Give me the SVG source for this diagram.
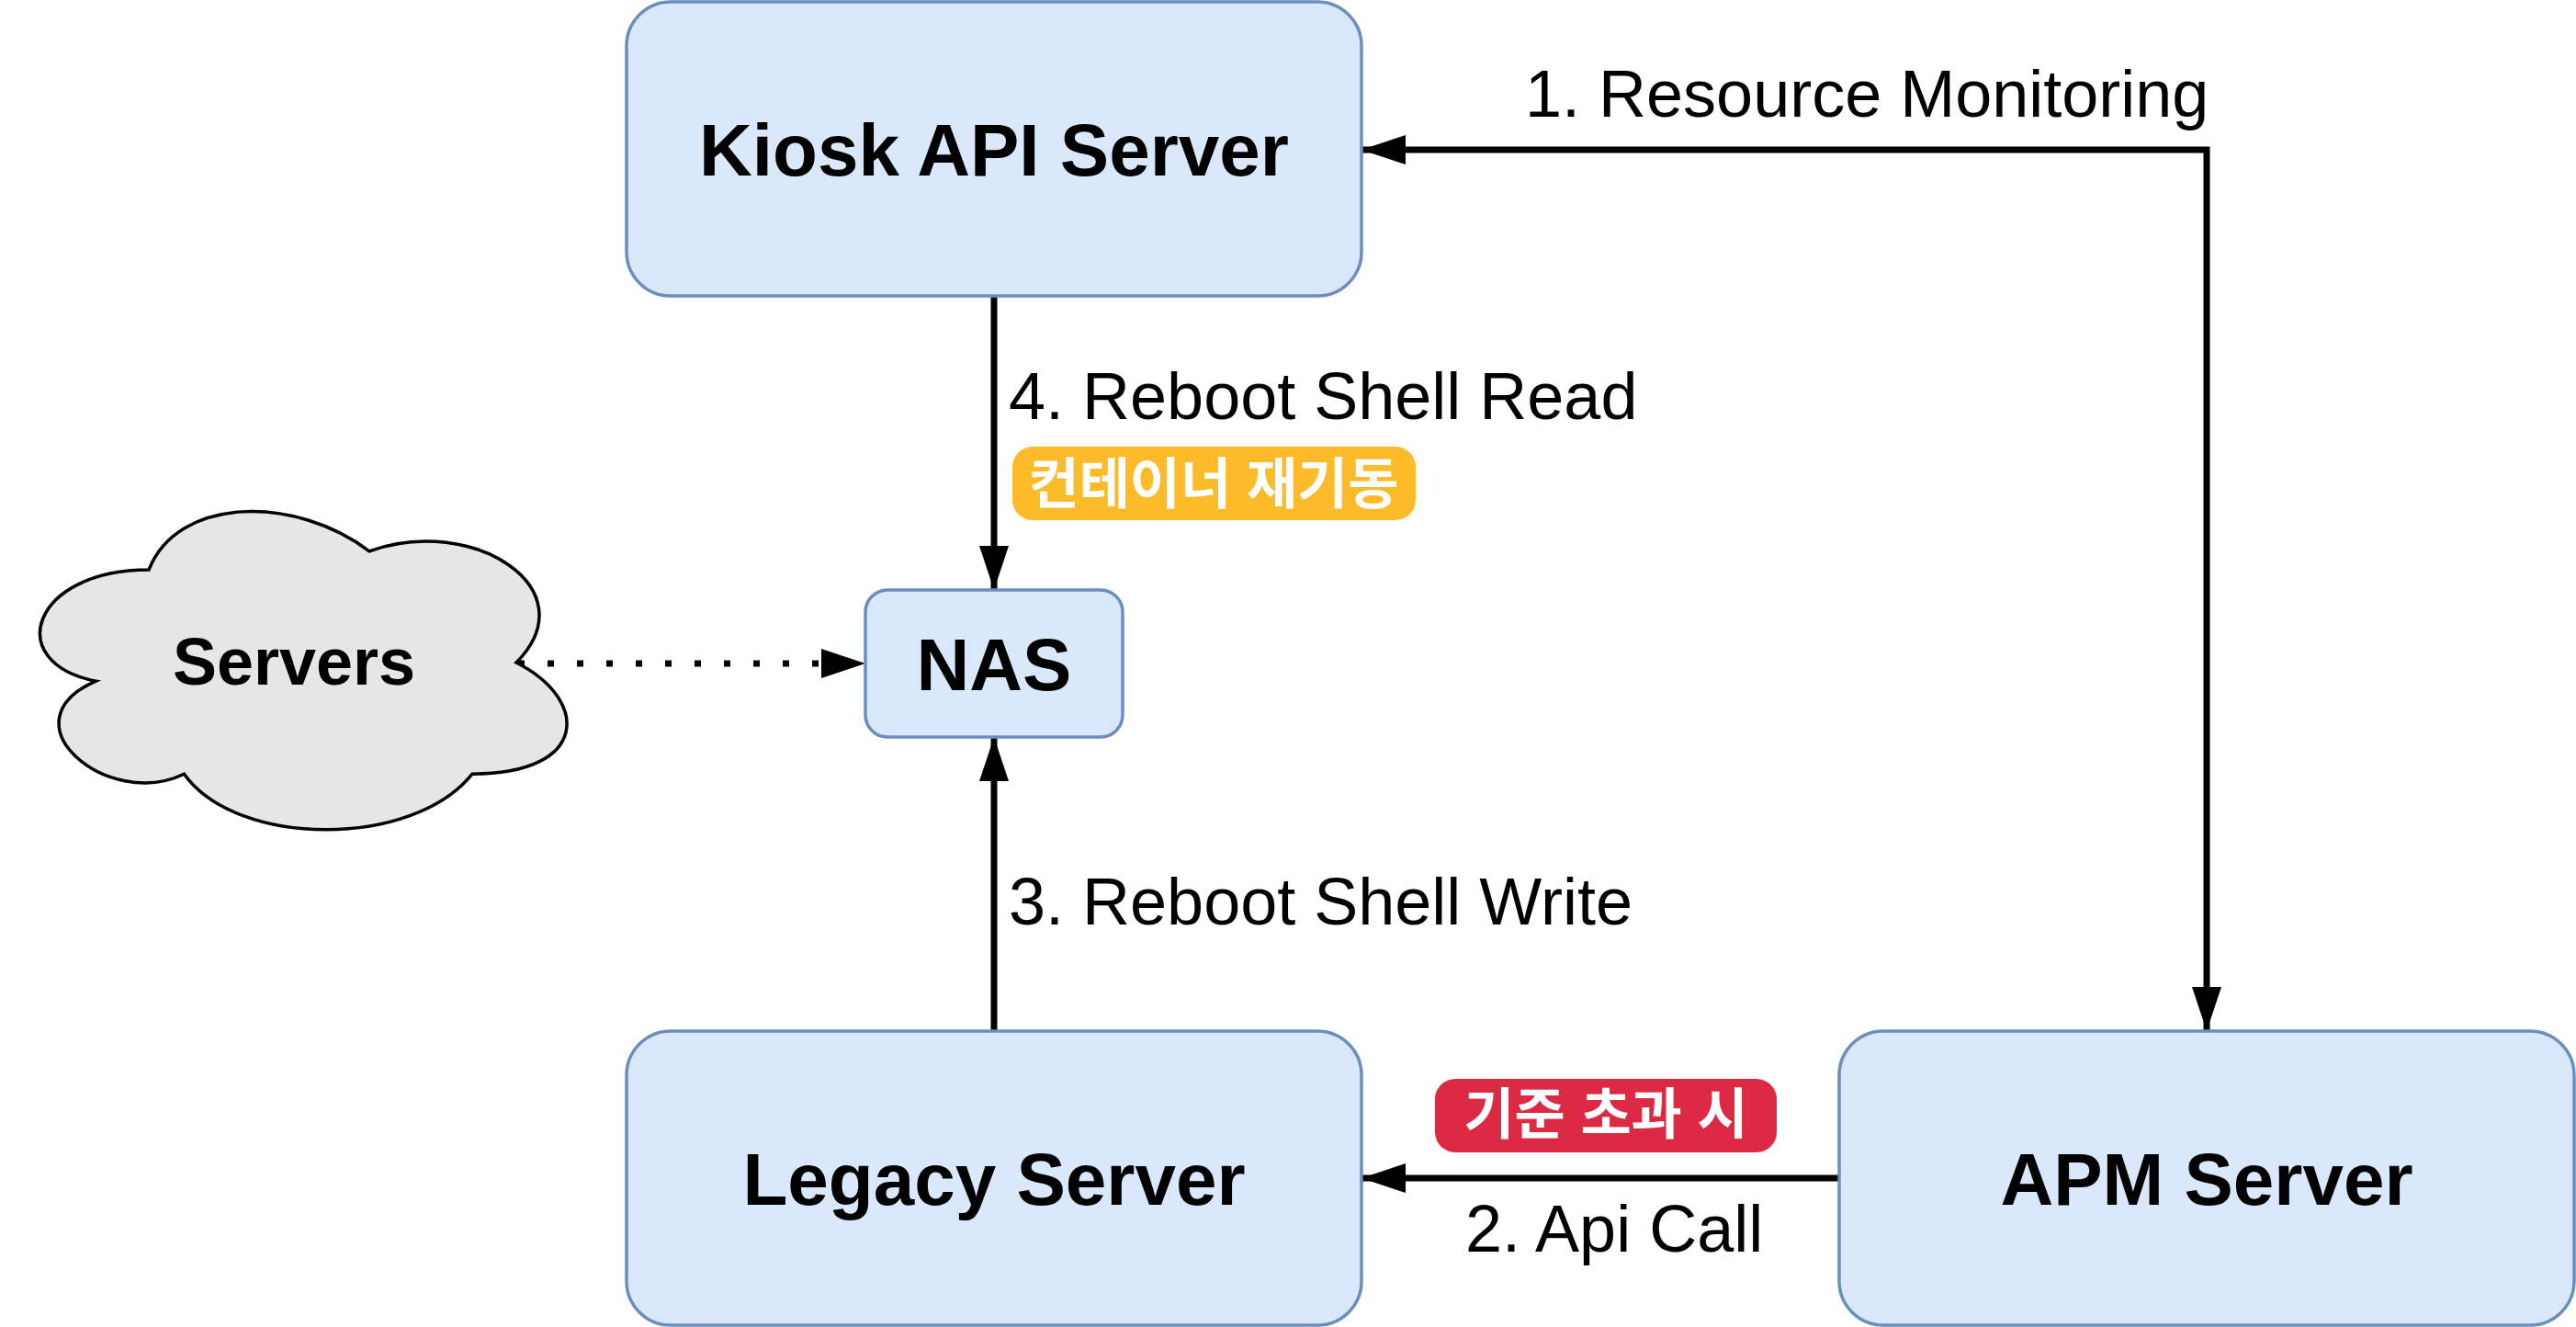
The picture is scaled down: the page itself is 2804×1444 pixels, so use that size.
<svg xmlns="http://www.w3.org/2000/svg" width="2804" height="1444" viewBox="0 0 2804 1444">
  <style>
    .box { fill: #dae8fc; stroke: #6c8ebf; stroke-width: 3.5; }
    .node-text { font-family: "Liberation Sans", Arial, sans-serif; font-weight: bold; font-size: 80px; fill: #000; text-anchor: middle; }
    .label { font-family: "Liberation Sans", Arial, sans-serif; font-size: 72px; fill: #000; }
    .badge-text { font-family: "Liberation Sans", "Noto Sans CJK KR", sans-serif; font-weight: bold; font-size: 60px; fill: #ffffff; text-anchor: middle; }
    .edge { fill: none; stroke: #000; stroke-width: 7; }
  </style>
  <defs>
    <marker id="arrow" markerUnits="userSpaceOnUse" markerWidth="48" markerHeight="32" viewBox="0 0 48 32" refX="48" refY="16" orient="auto-start-reverse">
      <path d="M0,0 L48,16 L0,32 Z" fill="#000"/>
    </marker>
  </defs>
  <rect width="2804" height="1444" fill="#ffffff"/>

  <g id="connectors">
    <path id="edge-monitoring" class="edge" d="M2402,1122 L2402,163 L1482,163" marker-start="url(#arrow)" marker-end="url(#arrow)"/>
    <path id="edge-apicall" class="edge" d="M2002,1282 L1482,1282" marker-end="url(#arrow)"/>
    <path id="edge-write" class="edge" d="M1082,1122 L1082,802" marker-end="url(#arrow)"/>
    <path id="edge-read" class="edge" d="M1082,322 L1082,642" marker-end="url(#arrow)"/>
    <path id="edge-servers" class="edge" d="M564,722 L942,722" stroke-dasharray="7 25" marker-end="url(#arrow)"/>
  </g>

  <g id="edge-labels">
    <text class="label" x="1660" y="127">1. Resource Monitoring</text>
    <text class="label" x="1098" y="456">4. Reboot Shell Read</text>
    <text class="label" x="1098" y="1006">3. Reboot Shell Write</text>
    <text class="label" x="1595" y="1362">2. Api Call</text>
    <g id="badge-restart">
      <rect x="1102" y="486" width="439" height="80" rx="22" fill="#fdbb2a"/>
      <text class="badge-text" x="1321" y="548">컨테이너 재기동</text>
    </g>
    <g id="badge-exceed">
      <rect x="1562" y="1174" width="372" height="80" rx="22" fill="#dc2a45"/>
      <text class="badge-text" x="1748" y="1234">기준 초과 시</text>
    </g>
  </g>

  <g id="node-kiosk">
    <rect class="box" x="682" y="2" width="800" height="320" rx="48"/>
    <text class="node-text" x="1082" y="191">Kiosk API Server</text>
  </g>
  <g id="node-nas">
    <rect class="box" x="942" y="642" width="280" height="160" rx="24"/>
    <text class="node-text" x="1082" y="751">NAS</text>
  </g>
  <g id="node-servers">
    <path d="M162,620 C34,620 2,721 104.4,741.2 C2,785.6 117.2,882.6 200.4,842.2 C258,923 450,923 514,842.2 C642,842.2 642,761.4 562,721 C642,640.2 514,559.4 402,599.8 C322,539.2 194,539.2 162,620 Z" fill="#e6e6e6" stroke="#000" stroke-width="3.5"/>
    <text class="node-text" x="320" y="745" style="font-size:72px">Servers</text>
  </g>
  <g id="node-legacy">
    <rect class="box" x="682" y="1122" width="800" height="320" rx="48"/>
    <text class="node-text" x="1082" y="1311">Legacy Server</text>
  </g>
  <g id="node-apm">
    <rect class="box" x="2002" y="1122" width="800" height="320" rx="48"/>
    <text class="node-text" x="2402" y="1311">APM Server</text>
  </g>
</svg>
